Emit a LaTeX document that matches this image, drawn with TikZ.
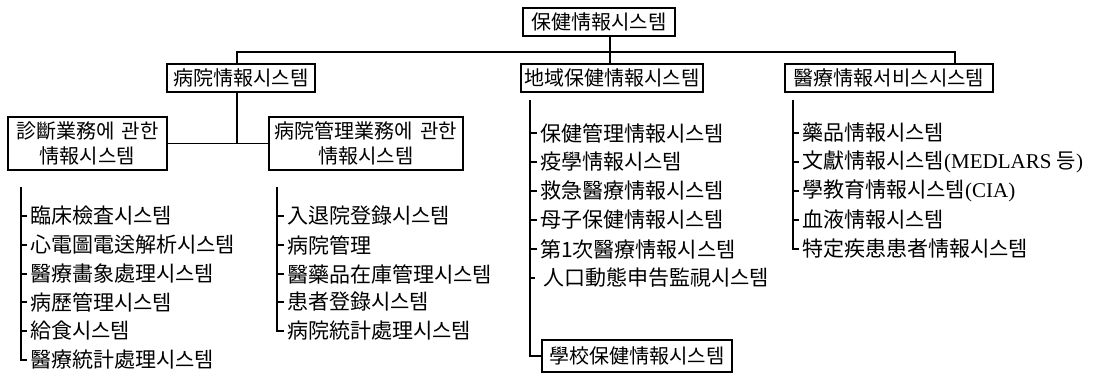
\documentclass[tikz,border=0pt]{standalone}
\usepackage{fontspec}
\setmainfont{Noto Sans CJK KR}
\newfontfamily\latfont{Liberation Serif}
\usetikzlibrary{calc}

\tikzset{
  sysbox/.style={draw,line width=1.3pt,inner sep=0pt,minimum height=28pt,align=center},
  item/.style={anchor=west,inner xsep=3pt,inner ysep=0pt,font=\fontsize{21}{25}\selectfont},
  tree/.style={line width=1.3pt}
}

\begin{document}
\begin{tikzpicture}[x=1pt,y=-1pt,font=\fontsize{20}{25}\selectfont]
\useasboundingbox (0,0) rectangle (1114,382);

% boxes
\node[sysbox,minimum width=152pt] (top) at (599,22) {保健情報시스템};
\node[sysbox,minimum width=148pt] (hosp) at (241,78) {病院情報시스템};
\node[sysbox,minimum width=182pt] (region) at (612,78) {地域保健情報시스템};
\node[sysbox,minimum width=208pt] (medsvc) at (889,78) {醫療情報서비스시스템};
\node[sysbox,minimum width=159pt,minimum height=53pt] (diag) at (87.5,143.5) {診斷業務에\hspace{.35em}관한\\情報시스템};
\node[sysbox,minimum width=194pt,minimum height=53pt] (mgmt) at (366,143.5) {病院管理業務에\hspace{.35em}관한\\情報시스템};
\node[sysbox,minimum width=190pt,minimum height=32pt] (school) at (637,356) {學校保健情報시스템};

% bus
\coordinate (busL) at (237,52);
\coordinate (trunk) at (610,52);
\coordinate (busR) at (955,52);
\draw[tree] (busL |- hosp.north) -- (busL) -- (busR) -- (busR |- medsvc.north);
\draw[tree] (trunk |- top.south) -- (trunk |- region.north);
\draw[tree] (busL |- hosp.south) -- (busL |- diag.east);
\draw[tree] (diag.east) -- (mgmt.west);

% diagnosis list
\coordinate (dtop) at (21,187);
\node[item] (d1) at (27,216) {臨床檢査시스템};
\node[item] (d2) at (27,245) {心電圖電送解析시스템};
\node[item] (d3) at (27,274) {醫療畵象處理시스템};
\node[item] (d4) at (27,302) {病歷管理시스템};
\node[item] (d5) at (27,331) {給食시스템};
\node[item] (d6) at (27,360) {醫療統計處理시스템};
\draw[tree] (dtop) |- (d6.west);
\draw[tree] (dtop |- d1.west) -- (d1.west);
\draw[tree] (dtop |- d2.west) -- (d2.west);
\draw[tree] (dtop |- d3.west) -- (d3.west);
\draw[tree] (dtop |- d4.west) -- (d4.west);
\draw[tree] (dtop |- d5.west) -- (d5.west);

% management list
\coordinate (mtop) at (277,187);
\node[item] (m1) at (284,216) {入退院登錄시스템};
\node[item] (m2) at (284,245) {病院管理};
\node[item] (m3) at (284,274) {醫藥品在庫管理시스템};
\node[item] (m4) at (284,302) {患者登錄시스템};
\node[item] (m5) at (284,331) {病院統計處理시스템};
\draw[tree] (mtop) |- (m5.west);
\draw[tree] (mtop |- m1.west) -- (m1.west);
\draw[tree] (mtop |- m2.west) -- (m2.west);
\draw[tree] (mtop |- m3.west) -- (m3.west);
\draw[tree] (mtop |- m4.west) -- (m4.west);

% regional list
\coordinate (rtop) at (530,100);
\node[item] (r1) at (537,133) {保健管理情報시스템};
\node[item] (r2) at (537,162) {疫學情報시스템};
\node[item] (r3) at (537,191) {救急醫療情報시스템};
\node[item] (r4) at (537,220) {母子保健情報시스템};
\node[item] (r5) at (537,249) {第1次醫療情報시스템};
\node[item] (r6) at (540,278) {人口動態申告監視시스템};
\draw[tree] (rtop) |- (school.west);
\draw[tree] (rtop |- r1.west) -- (r1.west);
\draw[tree] (rtop |- r2.west) -- (r2.west);
\draw[tree] (rtop |- r3.west) -- (r3.west);
\draw[tree] (rtop |- r4.west) -- (r4.west);
\draw[tree] (rtop |- r5.west) -- (r5.west);
\draw[tree] (rtop |- r6.west) -- ++(5,0);

% service list
\coordinate (stop) at (793,100);
\node[item] (s1) at (799,133) {藥品情報시스템};
\node[item] (s2) at (799,162) {文獻情報시스템{\latfont(MEDLARS }등{\latfont)}};
\node[item] (s3) at (799,191) {學教育情報시스템{\latfont(CIA)}};
\node[item] (s4) at (799,220) {血液情報시스템};
\node[item] (s5) at (799,249) {特定疾患患者情報시스템};
\draw[tree] (stop) |- (s5.west);
\draw[tree] (stop |- s1.west) -- (s1.west);
\draw[tree] (stop |- s2.west) -- (s2.west);
\draw[tree] (stop |- s3.west) -- (s3.west);
\draw[tree] (stop |- s4.west) -- (s4.west);
\end{tikzpicture}
\end{document}
